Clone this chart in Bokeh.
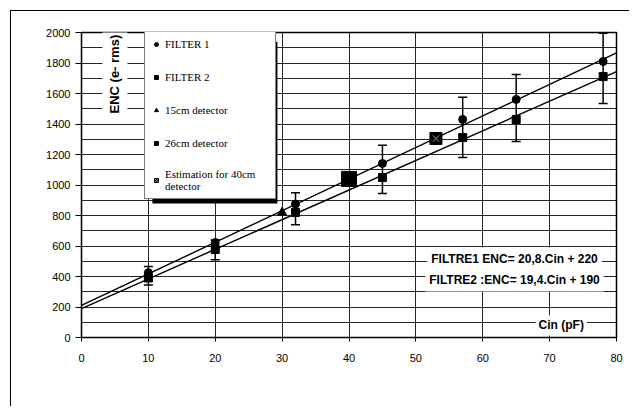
import numpy as np
from bokeh.plotting import figure
from bokeh.models import (ColumnDataSource, Whisker, TeeHead, Label, Legend, LegendItem,
                          FixedTicker, BoxAnnotation, Range1d)
from bokeh.embed import file_html
from bokeh.resources import INLINE

# ---- data ----
cin = [10, 20, 32, 45, 57, 65, 78]
enc_filter1 = [425, 623, 875, 1141, 1430, 1561, 1810]
enc_filter2 = [390, 577, 820, 1049, 1311, 1430, 1711]
err_lower = [345, 510, 740, 945, 1180, 1285, 1535]
err_upper = [465, 640, 950, 1260, 1575, 1725, 1995]

det15_cin = [30]
det15_enc = [820]
det26_cin = [40]
det26_enc = [1040]
est40_cin = [53]
est40_enc = [1305]

fit_cin = [0, 80]
fit1_enc = [210, 1867]
fit2_enc = [190, 1744]

x_ticks = [0, 10, 20, 30, 40, 50, 60, 70, 80]
y_ticks = [0, 200, 400, 600, 800, 1000, 1200, 1400, 1600, 1800, 2000]
y_grid = list(range(0, 2001, 100))

legend_labels = ["FILTER 1", "FILTER 2", "15cm detector", "26cm detector",
                 "Estimation for 40cm\ndetector"]
y_title = "ENC (e- rms)"
x_title = "Cin (pF)"
eq1_text = "FILTRE1 ENC= 20,8.Cin + 220"
eq2_text = "FILTRE2 :ENC= 19,4.Cin + 190"

# ---- figure ----
p = figure(width=620, height=397, x_range=Range1d(0, 80), y_range=Range1d(0, 2000),
           output_backend="svg", toolbar_location=None,
           min_border_left=70, min_border_right=15, min_border_top=21, min_border_bottom=71)
p.styles = {"margin-left": "11px", "margin-top": "11px",
            "box-shadow": "-1px -1px 0px 0px black",
            "clip-path": "inset(-1px 2px 2px -1px)"}
p.background_fill_color = "white"
p.border_fill_color = "white"
p.outline_line_color = "black"
p.outline_line_width = 1.5

p.xaxis.ticker = FixedTicker(ticks=x_ticks)
p.yaxis.ticker = FixedTicker(ticks=y_ticks)
p.xgrid.ticker = FixedTicker(ticks=x_ticks)
p.ygrid.ticker = FixedTicker(ticks=y_grid)
p.grid.grid_line_color = "black"
p.grid.grid_line_alpha = 0.85
p.grid.grid_line_width = 1

for ax in (p.xaxis, p.yaxis):
    ax.axis_line_color = "black"
    ax.axis_line_width = 1
    ax.major_tick_line_color = "black"
    ax.major_tick_in = 0
    ax.minor_tick_out = 0
    ax.minor_tick_in = 0
    ax.major_label_text_font = "Liberation Sans"
    ax.major_label_text_font_size = "11px"
    ax.major_label_text_color = "black"
p.xaxis.major_tick_out = 4
p.xaxis.major_label_standoff = 12
p.yaxis.major_tick_out = 6
p.yaxis.major_label_standoff = 5

# fit lines
p.line(fit_cin, fit1_enc, line_color="black", line_width=1.4)
p.line(fit_cin, fit2_enc, line_color="black", line_width=1.4)

# error bars
src = ColumnDataSource(dict(cin=cin, f1=enc_filter1, f2=enc_filter2,
                            lower=err_lower, upper=err_upper))
wh = Whisker(base="cin", lower="lower", upper="upper", source=src,
             line_color="black", line_width=1.5,
             upper_head=TeeHead(size=9, line_color="black", line_width=1.5),
             lower_head=TeeHead(size=9, line_color="black", line_width=1.5))
p.add_layout(wh)

r1 = p.scatter("cin", "f1", source=src, marker="circle", size=8, color="black")
r2 = p.scatter("cin", "f2", source=src, marker="square", size=8, color="black")
r3 = p.scatter(det15_cin, det15_enc, marker="triangle", size=9, color="black")
r4 = p.scatter(det26_cin, det26_enc, marker="square", size=15, color="black")
r5 = p.scatter(est40_cin, est40_enc, marker="square", size=12, color="black")
r5b = p.scatter(est40_cin, est40_enc, marker="x", size=9, line_color="#9a9a9a", line_width=1)

# legend shadow (only its bottom/right edges peek out from behind the legend)
shadow = BoxAnnotation(left=10.6, right=29.3, top=1940, bottom=879,
                       fill_color="black", fill_alpha=1, line_alpha=0)
p.add_layout(shadow)

legend = Legend(items=[LegendItem(label=legend_labels[0], renderers=[r1]),
                       LegendItem(label=legend_labels[1], renderers=[r2]),
                       LegendItem(label=legend_labels[2], renderers=[r3]),
                       LegendItem(label=legend_labels[3], renderers=[r4]),
                       LegendItem(label=legend_labels[4], renderers=[r5, r5b])],
                location=(63, 138), margin=0, padding=6, spacing=17,
                glyph_width=10, glyph_height=16, label_height=16, label_width=104,
                label_standoff=4, label_text_font="Liberation Serif",
                label_text_font_size="11px", label_text_color="black",
                border_line_color="black", border_line_width=1,
                background_fill_color="white", background_fill_alpha=1)
p.add_layout(legend)

# texts
p.add_layout(Label(x=5.0, y=1436, text=y_title, angle=np.pi / 2, text_align="left",
                   text_baseline="middle", text_font="Liberation Sans",
                   text_font_style="bold", text_font_size="13px", text_color="black",
                   background_fill_color="white", padding=5))
p.add_layout(Label(x=67.9, y=79, text=x_title, text_align="left", text_baseline="middle",
                   text_font="Liberation Sans", text_font_style="bold",
                   text_font_size="12px", text_color="black",
                   background_fill_color="white", padding=3))
p.add_layout(Label(x=51.7, y=518, text=eq1_text, text_align="left", text_baseline="middle",
                   text_font="Liberation Sans", text_font_style="bold",
                   text_font_size="12px", text_color="black",
                   background_fill_color="white", padding=4))
p.add_layout(Label(x=51.4, y=374, text=eq2_text, text_align="left", text_baseline="middle",
                   text_font="Liberation Sans", text_font_style="bold",
                   text_font_size="12px", text_color="black",
                   background_fill_color="white", padding=4))

open("out.html", "w").write(file_html(p, INLINE))
